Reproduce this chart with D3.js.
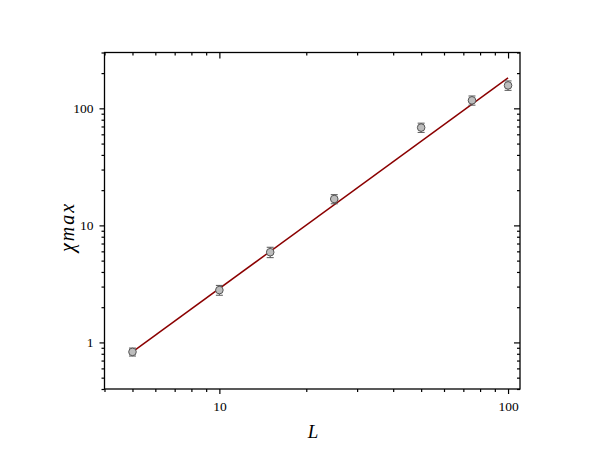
<!DOCTYPE html>
<html lang="en">
<head>
    <meta charset="UTF-8">
    <title>chi max vs L</title>
    <script src="https://cdnjs.cloudflare.com/ajax/libs/d3/7.8.5/d3.min.js"></script>
    <style>
        body { margin: 0; background: #fff; }
        text { font-family: "Liberation Serif", "DejaVu Serif", serif; }
        .tick text { font-size: 13.5px; fill: #000; }
    </style>
</head>
<body>
    <svg width="598" height="465"></svg>

    <script>
        // measured points
        const sizes = [5, 10, 15, 25, 50, 75, 100];
        const chiMax = [0.83, 2.8, 5.9, 16.8, 68.5, 117, 157];
        const chiErr = [0.065, 0.27, 0.6, 1.5, 6.2, 10.5, 14.5];

        // power-law fit, end points
        const fitL = [5, 100];
        const fitChi = [0.83, 182];

        const xMajor = [10, 100];
        const xMinor = [4, 5, 6, 7, 8, 9, 20, 30, 40, 50, 60, 70, 80, 90];
        const yMajor = [1, 10, 100];
        const yMinor = [0.4, 0.5, 0.6, 0.7, 0.8, 0.9, 2, 3, 4, 5, 6, 7, 8, 9,
                        20, 30, 40, 50, 60, 70, 80, 90, 200, 300];

        const svg = d3.select("svg");
        const pLeft = 104.5, pRight = 520, pTop = 52.5, pBottom = 389;

        const x = d3.scaleLog().domain([4, 110]).range([pLeft, pRight]);
        const y = d3.scaleLog().domain([0.4, 300]).range([pBottom, pTop]);
        const fmt = d3.format("~g");

        function tickStyle(g) {
            g.select(".domain").remove();
            g.selectAll("line").attr("stroke", "#000").attr("stroke-width", 1.2);
        }

        // bottom
        svg.append("g").attr("transform", `translate(0,${pBottom})`)
            .call(d3.axisBottom(x).tickValues(xMajor).tickSize(5).tickPadding(7).tickFormat(fmt))
            .call(tickStyle);
        svg.append("g").attr("transform", `translate(0,${pBottom})`)
            .call(d3.axisBottom(x).tickValues(xMinor).tickSize(3).tickFormat(""))
            .call(tickStyle);
        // top (inward)
        svg.append("g").attr("transform", `translate(0,${pTop})`)
            .call(d3.axisBottom(x).tickValues(xMajor).tickSize(6).tickFormat(""))
            .call(tickStyle);
        svg.append("g").attr("transform", `translate(0,${pTop})`)
            .call(d3.axisBottom(x).tickValues(xMinor).tickSize(3).tickFormat(""))
            .call(tickStyle);
        // left
        svg.append("g").attr("transform", `translate(${pLeft},0)`)
            .call(d3.axisLeft(y).tickValues(yMajor).tickSize(5).tickPadding(6).tickFormat(fmt))
            .call(tickStyle);
        svg.append("g").attr("transform", `translate(${pLeft},0)`)
            .call(d3.axisLeft(y).tickValues(yMinor).tickSize(3).tickFormat(""))
            .call(tickStyle);
        // right (inward)
        svg.append("g").attr("transform", `translate(${pRight},0)`)
            .call(d3.axisLeft(y).tickValues(yMajor).tickSize(6).tickFormat(""))
            .call(tickStyle);
        svg.append("g").attr("transform", `translate(${pRight},0)`)
            .call(d3.axisLeft(y).tickValues(yMinor).tickSize(3).tickFormat(""))
            .call(tickStyle);

        svg.append("rect")
            .attr("x", pLeft).attr("y", pTop)
            .attr("width", pRight - pLeft).attr("height", pBottom - pTop)
            .attr("fill", "none").attr("stroke", "#000").attr("stroke-width", 1.3);

        // fit line
        svg.append("path")
            .datum(d3.zip(fitL, fitChi))
            .attr("d", d3.line().x(d => x(d[0])).y(d => y(d[1])))
            .attr("fill", "none")
            .attr("stroke", "#8b0000")
            .attr("stroke-width", 1.5);

        // error bars + markers
        const pts = sizes.map((L, i) => ({ L, v: chiMax[i], e: chiErr[i] }));
        const pg = svg.append("g").selectAll("g").data(pts).join("g");
        pg.append("line")
            .attr("x1", d => x(d.L)).attr("x2", d => x(d.L))
            .attr("y1", d => y(d.v - d.e)).attr("y2", d => y(d.v + d.e))
            .attr("stroke", "#555").attr("stroke-width", 1);
        [-1, 1].forEach(s => {
            pg.append("line")
                .attr("x1", d => x(d.L) - 3.5).attr("x2", d => x(d.L) + 3.5)
                .attr("y1", d => y(d.v + s * d.e)).attr("y2", d => y(d.v + s * d.e))
                .attr("stroke", "#555").attr("stroke-width", 1);
        });
        pg.append("circle")
            .attr("cx", d => x(d.L)).attr("cy", d => y(d.v)).attr("r", 3.8)
            .attr("fill", "#bdbdbd").attr("stroke", "#555").attr("stroke-width", 1);

        // axis titles
        svg.append("text")
            .attr("x", 313).attr("y", 438)
            .attr("text-anchor", "middle")
            .attr("font-size", 19).attr("font-style", "italic")
            .text("L");

        svg.append("text")
            .attr("transform", "translate(74,227) rotate(-90)")
            .attr("text-anchor", "middle")
            .attr("font-size", 20).attr("font-style", "italic")
            .attr("letter-spacing", 2)
            .text("χmax");
    </script>
</body>
</html>
